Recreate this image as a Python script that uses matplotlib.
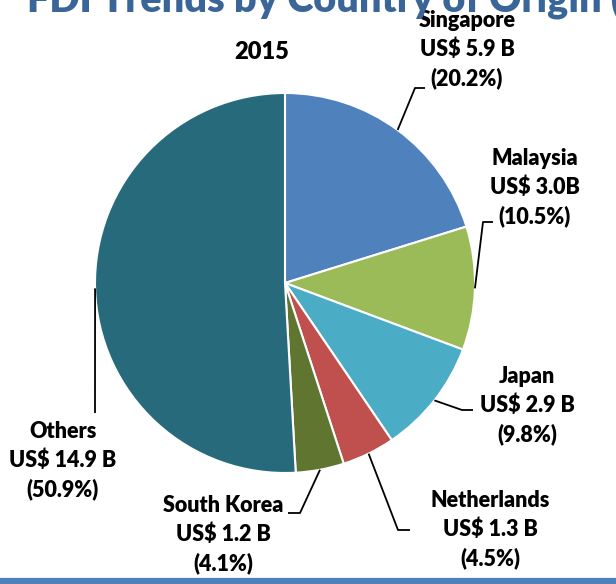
import matplotlib as mpl
mpl.use('Agg')
import matplotlib.pyplot as plt
import numpy as np

# shares of FDI inflow by country of origin, 2015
countries = ['Singapore', 'Malaysia', 'Japan', 'Netherlands', 'South Korea', 'Others']
amounts = ['US$ 5.9 B', 'US$ 3.0B', 'US$ 2.9 B', 'US$ 1.3 B', 'US$ 1.2 B', 'US$ 14.9 B']
shares = [20.2, 10.5, 9.8, 4.5, 4.1, 50.9]
colors = ['#4F81BD', '#9BBB59', '#4BACC6', '#C0504D', '#5F7530', '#276A7C']

plt.rcParams['font.family'] = ['Lato', 'DejaVu Sans']

W, H = 616, 584
cx, cy, R = 285, 283, 190   # pie centre and radius in pixels


def px(x, y):
    # pixel position -> data units (radius = 1)
    return (x - cx) / R, (cy - y) / R


fig = plt.figure(figsize=(W / 100, H / 100), dpi=100)
ax = fig.add_axes([0, 0, 1, 1])

wedges, _ = ax.pie(shares, colors=colors, startangle=90, counterclock=False,
                   radius=1, wedgeprops=dict(edgecolor='white', linewidth=1.5),
                   frame=True)
ax.set_xlim(-cx / R, (W - cx) / R)
ax.set_ylim(-(H - cy) / R, cy / R)
ax.set_aspect('auto')
ax.axis('off')

# label centre (px) and leader elbow points (px) for each slice
label_pos = [(467, 50), (535, 188), (527, 406), (490, 530), (223, 535), (63, 461)]
elbows = [[(415, 88), (425, 88)],
          [(483, 222), (493, 222)],
          [(462, 410), (473, 410)],
          [(398, 530), (410, 530)],
          [(300, 513), (288, 513)],
          [(95, 413)]]

for w, name, amt, sh, lp, el in zip(wedges, countries, amounts, shares, label_pos, elbows):
    mid = np.deg2rad((w.theta1 + w.theta2) / 2)
    xs = [np.cos(mid)] + [px(*p)[0] for p in el]
    ys = [np.sin(mid)] + [px(*p)[1] for p in el]
    ax.plot(xs, ys, color='black', lw=1.3, solid_capstyle='butt')
    tx, ty = px(*lp)
    ax.text(tx, ty, f'{name}\n{amt}\n({sh}%)', ha='center', va='center',
            fontsize=15.5, fontweight='heavy', linespacing=1.42, color='black')

tx, ty = px(262, 52)
ax.text(tx, ty, '2015', ha='center', va='center', fontsize=17, fontweight='heavy')

# heading sits mostly above the top edge
fig.text(27 / W, 1 - 12 / H, 'FDI Trends by Country of Origin (2015)',
         ha='left', va='baseline', fontsize=28.5, fontweight='heavy', color='#3A6599')

# rule along the bottom edge
fig.add_artist(plt.Line2D([0, 1], [3 / H, 3 / H], color='#4F81BD', lw=4.5))

fig.savefig('out.png', dpi=100)
